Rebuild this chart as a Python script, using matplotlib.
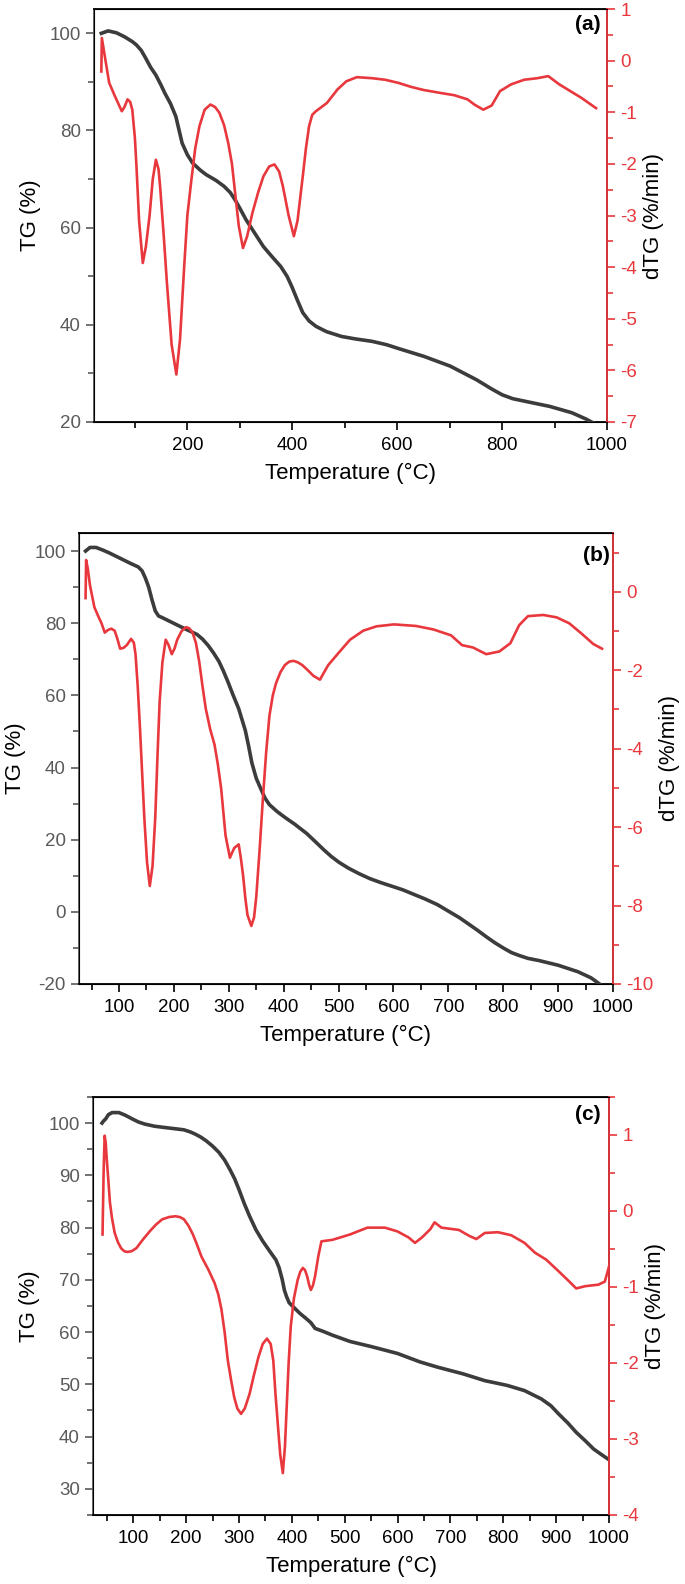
import numpy as np
import matplotlib
matplotlib.use("Agg")
from matplotlib import pyplot as plt
from matplotlib.ticker import MultipleLocator

plt.rcParams['font.family'] = ['Liberation Sans', 'DejaVu Sans']
plt.rcParams['axes.unicode_minus'] = False

# panel (a)
a_tg_T = [36, 49, 65, 80, 95, 103, 112, 120, 130, 140, 150, 157, 168, 178, 190, 200, 210, 225, 236, 255,
          270, 282, 291, 300, 312, 330, 345, 360, 378, 390, 399, 410, 420, 432, 445, 465, 494, 520, 552,
          580, 600, 651, 701, 751, 780, 800, 820, 842, 891, 933, 960, 979]
a_tg = [100.0, 100.5, 100.1, 99.3, 98.3, 97.6, 96.5, 95.0, 93.0, 91.4, 89.3, 87.7, 85.5, 82.9, 77.4, 75.0,
        73.3, 71.8, 70.9, 69.7, 68.5, 67.2, 65.7, 64.0, 61.6, 58.6, 56.1, 54.2, 52.0, 50.0, 47.9, 45.0,
        42.5, 40.8, 39.7, 38.6, 37.6, 37.1, 36.6, 35.9, 35.2, 33.5, 31.5, 28.7, 26.8, 25.6, 24.8, 24.3,
        23.2, 21.9, 20.6, 19.5]
a_dtg_T = [36, 37, 44, 51, 62, 75, 80, 86, 91, 95, 100, 103, 108, 115, 121, 128, 134, 140, 145, 148, 155,
           161, 170, 179, 186, 194, 200, 207, 215, 223, 233, 244, 253, 261, 270, 278, 285, 291, 298, 306,
           314, 324, 335, 345, 356, 366, 375, 382, 393, 403, 410, 420, 426, 432, 438, 445, 466, 486, 503,
           523, 552, 577, 602, 627, 651, 685, 709, 734, 747, 764, 780, 796, 817, 842, 867, 888, 909, 930,
           951, 979]
a_dtg = [-0.21, 0.44, 0.0, -0.43, -0.69, -0.98, -0.9, -0.75, -0.8, -0.95, -1.5, -2.05, -3.1, -3.92, -3.6,
         -3.0, -2.3, -1.92, -2.1, -2.43, -3.4, -4.3, -5.5, -6.08, -5.4, -3.98, -3.0, -2.37, -1.7, -1.27,
         -0.95, -0.85, -0.9, -1.01, -1.25, -1.6, -2.0, -2.56, -3.2, -3.63, -3.4, -2.95, -2.55, -2.24,
         -2.05, -2.01, -2.15, -2.43, -3.0, -3.4, -3.1, -2.24, -1.7, -1.27, -1.05, -0.98, -0.82, -0.56,
         -0.4, -0.32, -0.34, -0.37, -0.43, -0.51, -0.57, -0.63, -0.67, -0.75, -0.85, -0.95, -0.87, -0.59,
         -0.46, -0.37, -0.34, -0.30, -0.46, -0.59, -0.72, -0.92]

# panel (b)
b_tg_T = [39, 47, 58, 70, 82, 102, 122, 135, 142, 148, 154, 160, 166, 172, 178, 194, 218, 242, 252, 262,
          272, 282, 290, 298, 308, 318, 330, 336, 342, 350, 358, 366, 374, 388, 402, 420, 442, 458, 473,
          487, 501, 518, 537, 557, 577, 617, 657, 680, 701, 720, 737, 753, 769, 785, 801, 815, 829, 845,
          865, 900, 936, 960, 980]
b_tg = [100.0, 101.0, 101.0, 100.3, 99.5, 98.0, 96.5, 95.6, 94.5, 92.5, 90.0, 86.5, 83.4, 82.0, 81.6,
        80.4, 78.6, 76.9, 75.6, 73.9, 71.8, 69.4, 66.8, 63.9, 60.0, 56.3, 50.3, 46.0, 41.3, 37.0, 34.2,
        31.5, 29.7, 27.8, 26.2, 24.3, 21.7, 19.4, 17.2, 15.3, 13.7, 12.1, 10.6, 9.2, 8.1, 6.1, 3.6, 2.0,
        0.1, -1.6, -3.4, -5.1, -6.9, -8.6, -10.1, -11.3, -12.1, -12.9, -13.5, -14.8, -16.6, -18.3, -20.5]
b_dtg_T = [39, 40, 43, 47, 55, 62, 68, 74, 80, 86, 92, 97, 102, 108, 114, 122, 127, 130, 134, 138, 142,
           146, 151, 156, 161, 166, 170, 174, 179, 185, 190, 196, 201, 206, 214, 222, 228, 234, 240, 246,
           252, 258, 266, 274, 280, 286, 294, 302, 306, 310, 318, 322, 326, 330, 334, 341, 346, 350, 356,
           362, 368, 374, 380, 386, 394, 402, 410, 418, 426, 434, 444, 454, 466, 481, 501, 521, 545, 569,
           601, 641, 673, 705, 725, 745, 769, 793, 813, 829, 845, 873, 897, 920, 944, 964, 980]
b_dtg = [-0.16, 0.81, 0.6, 0.17, -0.39, -0.62, -0.8, -1.04, -0.97, -0.94, -0.99, -1.2, -1.45, -1.43,
         -1.36, -1.2, -1.3, -1.59, -2.4, -3.44, -4.6, -5.75, -6.9, -7.5, -7.0, -5.75, -4.2, -2.79, -1.8,
         -1.22, -1.35, -1.59, -1.45, -1.22, -1.0, -0.9, -0.93, -1.04, -1.3, -1.77, -2.4, -2.98, -3.5,
         -3.9, -4.4, -5.01, -6.21, -6.78, -6.65, -6.53, -6.44, -6.8, -7.23, -7.8, -8.24, -8.52, -8.3,
         -7.78, -6.6, -5.29, -4.1, -3.16, -2.65, -2.33, -2.05, -1.87, -1.78, -1.76, -1.8, -1.87, -2.0,
         -2.14, -2.24, -1.87, -1.54, -1.22, -0.99, -0.88, -0.83, -0.87, -0.96, -1.11, -1.36, -1.42,
         -1.59, -1.52, -1.31, -0.85, -0.62, -0.59, -0.65, -0.8, -1.08, -1.33, -1.45]

# panel (c)
c_tg_T = [41, 44, 48, 53, 60, 73, 85, 98, 110, 122, 140, 155, 180, 196, 208, 217, 228, 238, 250, 262, 273,
          283, 292, 300, 310, 320, 332, 345, 358, 370, 376, 382, 386, 390, 395, 403, 415, 427, 436, 444,
          460, 477, 510, 551, 600, 642, 675, 724, 765, 807, 840, 872, 890, 905, 922, 938, 955, 971, 985,
          998]
c_tg = [100.0, 100.4, 100.8, 101.6, 102.0, 102.0, 101.5, 100.8, 100.2, 99.8, 99.4, 99.2, 98.9, 98.7,
        98.3, 97.9, 97.3, 96.6, 95.6, 94.4, 92.9, 91.1, 89.3, 87.3, 84.6, 82.2, 79.6, 77.4, 75.5, 73.8,
        72.3, 70.0, 68.0, 66.8, 65.6, 64.8, 63.6, 62.6, 61.8, 60.7, 60.1, 59.4, 58.2, 57.2, 55.9, 54.3,
        53.3, 52.0, 50.7, 49.8, 48.8, 47.2, 45.9, 44.3, 42.6, 40.8, 39.2, 37.6, 36.6, 35.7]
c_dtg_T = [42, 44, 46, 48, 50, 53, 56, 60, 65, 71, 77, 83, 89, 97, 106, 118, 131, 143, 155, 168, 180, 188,
           196, 205, 213, 221, 229, 242, 254, 261, 267, 273, 279, 285, 291, 297, 304, 311, 320, 328, 337,
           345, 353, 360, 365, 369, 374, 378, 383, 387, 390, 394, 398, 404, 411, 416, 421, 425, 429, 433,
           436, 440, 444, 450, 456, 477, 510, 543, 576, 600, 621, 633, 646, 662, 670, 683, 716, 736, 749,
           765, 790, 815, 840, 860, 881, 901, 922, 938, 955, 980, 992, 1000]
c_dtg = [-0.31, 0.5, 0.99, 0.9, 0.68, 0.4, 0.11, -0.1, -0.29, -0.41, -0.49, -0.53, -0.54, -0.53, -0.49,
         -0.38, -0.27, -0.18, -0.11, -0.08, -0.07, -0.08, -0.11, -0.2, -0.31, -0.45, -0.6, -0.77, -0.95,
         -1.1, -1.3, -1.6, -1.97, -2.22, -2.45, -2.6, -2.67, -2.6, -2.41, -2.17, -1.92, -1.75, -1.68,
         -1.75, -1.97, -2.4, -2.85, -3.2, -3.45, -3.1, -2.63, -2.0, -1.52, -1.15, -0.91, -0.8, -0.75,
         -0.78, -0.86, -0.98, -1.04, -0.98, -0.86, -0.6, -0.4, -0.38, -0.31, -0.22, -0.22, -0.27, -0.35,
         -0.42, -0.35, -0.24, -0.15, -0.22, -0.25, -0.33, -0.37, -0.29, -0.28, -0.32, -0.42, -0.55,
         -0.64, -0.77, -0.91, -1.02, -0.99, -0.97, -0.93, -0.73]

grey = '#3c3c3c'
red = '#e8383d'


def panel(rect, tg_T, tg, dtg_T, dtg, xlim, ylim, ylim2, xmaj, ymaj, y2maj, tag, tagx, tagy):
    ax = fig.add_axes(rect)
    ax.plot(tg_T, tg, color=grey, lw=2.6, zorder=3, solid_joinstyle='round')
    ax.set_xlim(*xlim)
    ax.set_ylim(*ylim)
    ax.xaxis.set_major_locator(MultipleLocator(xmaj))
    ax.xaxis.set_minor_locator(MultipleLocator(xmaj / 2))
    ax.yaxis.set_major_locator(MultipleLocator(ymaj))
    ax.yaxis.set_minor_locator(MultipleLocator(ymaj / 2))
    ax.tick_params(axis='x', which='major', direction='out', length=6, width=1.2, labelsize=13.5, pad=5)
    ax.tick_params(axis='x', which='minor', direction='out', length=4, width=1.2)
    ax.tick_params(axis='y', which='major', direction='out', length=6, width=1.2, labelsize=13.5,
                   colors='#5a5a5a')
    ax.tick_params(axis='y', which='minor', direction='out', length=4, width=1.2, colors='#5a5a5a')
    ax.spines['left'].set_color('#5a5a5a')
    for s in ax.spines.values():
        s.set_linewidth(1.3)
    ax.set_xlabel('Temperature (°C)', fontsize=16, labelpad=6)
    ax.set_ylabel('TG (%)', fontsize=16, labelpad=6)

    ax2 = ax.twinx()
    ax2.plot(dtg_T, dtg, color=red, lw=1.9, zorder=2, solid_joinstyle='round')
    ax2.set_ylim(*ylim2)
    ax2.yaxis.set_major_locator(MultipleLocator(y2maj))
    ax2.yaxis.set_minor_locator(MultipleLocator(y2maj / 2))
    ax2.tick_params(axis='y', which='major', direction='out', length=6, width=1.2, labelsize=13.5,
                    colors=red)
    ax2.tick_params(axis='y', which='minor', direction='out', length=4, width=1.2, colors=red)
    ax2.spines['right'].set_color(red)
    ax2.spines['right'].set_linewidth(1.3)
    ax2.set_ylabel('dTG (%/min)', fontsize=16, labelpad=4)
    ax2.text(tagx, tagy, tag, transform=ax2.transAxes, ha='right', va='center', fontsize=15,
             fontweight='bold', family=['Liberation Sans Narrow', 'Liberation Sans'])
    return ax, ax2


fig = plt.figure(figsize=(6.85, 15.84), dpi=100)

panel([0.1372, 0.7336, 0.749, 0.2607], a_tg_T, a_tg, a_dtg_T, a_dtg,
      (22, 1000), (20, 105), (-7, 1), 200, 20, 1, '(a)', 0.987, 0.962)
panel([0.1153, 0.3788, 0.7796, 0.2847], b_tg_T, b_tg, b_dtg_T, b_dtg,
      (27, 1000), (-20, 105), (-10, 1.5), 100, 20, 2, '(b)', 0.995, 0.951)
panel([0.1358, 0.0436, 0.7533, 0.2639], c_tg_T, c_tg, c_dtg_T, c_dtg,
      (24, 1000), (25, 105), (-4, 1.5), 100, 10, 1, '(c)', 0.984, 0.959)

fig.savefig('out.png', dpi=100)
